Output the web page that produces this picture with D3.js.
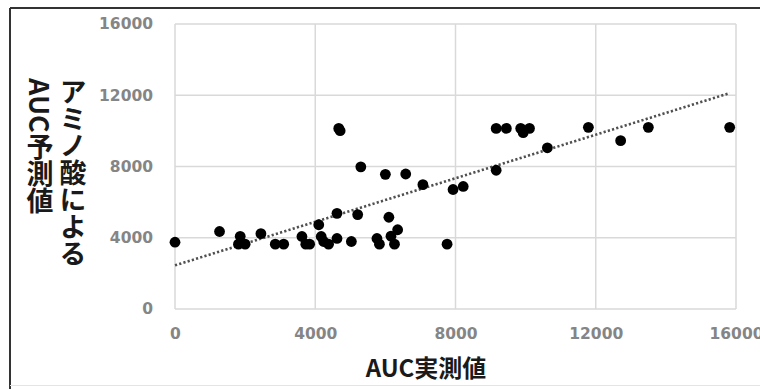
<!DOCTYPE html>
<html>
<head>
<meta charset="utf-8">
<script src="https://cdn.jsdelivr.net/npm/d3@7/dist/d3.min.js"></script>
<style>
  html, body { margin: 0; padding: 0; background: #fff; }
  svg { display: block; }
</style>
</head>
<body>
<script>
// AUC measured (x) vs. AUC predicted by amino acids (y)
const actual = [0, 1270, 1860, 1810, 2000, 2450, 2860, 3100, 3620, 3730,
  3840, 4100, 4170, 4240, 4380, 4620, 4620, 4670, 4710, 5030,
  5210, 5300, 5760, 5830, 6000, 6100, 6160, 6260, 6350, 6580,
  7070, 7760, 7930, 8220, 9160, 9160, 9450, 9860, 9930, 10110,
  10620, 11790, 12710, 13500, 15820];
const predicted = [3750, 4350, 4080, 3640, 3640, 4230, 3640, 3640, 4070, 3640,
  3640, 4730, 4070, 3790, 3640, 3960, 5370, 10140, 10010, 3790,
  5300, 7980, 3960, 3640, 7560, 5150, 4090, 3640, 4450, 7580,
  6980, 3640, 6710, 6880, 7790, 10140, 10140, 10140, 9900, 10140,
  9050, 10200, 9450, 10200, 10200];
const trendX = [0, 15820];
const trendY = [2450, 12120];
const xTicks = [0, 4000, 8000, 12000, 16000];
const yTicks = [0, 4000, 8000, 12000, 16000];
const xTitle = "AUC実測値";
const yTitleLines = ["アミノ酸による", "AUC予測値"];

const W = 760, H = 389;
const svg = d3.select("body").append("svg").attr("width", W).attr("height", H);

// outer frame
svg.append("rect").attr("x", 0).attr("y", 0).attr("width", W).attr("height", H).attr("fill", "#fff");
svg.append("line").attr("x1", 10).attr("x2", W).attr("y1", 8).attr("y2", 8)
  .attr("stroke", "#333").attr("stroke-width", 2);
svg.append("line").attr("x1", 10).attr("x2", 10).attr("y1", 8).attr("y2", H)
  .attr("stroke", "#333").attr("stroke-width", 2);
svg.append("line").attr("x1", 10).attr("x2", W).attr("y1", 385.5).attr("y2", 385.5)
  .attr("stroke", "#e4e4e4").attr("stroke-width", 1);

const x = d3.scaleLinear().domain([0, 16000]).range([175, 736]);
const y = d3.scaleLinear().domain([0, 16000]).range([309, 24]);

// grid
const grid = svg.append("g");
grid.selectAll("line.v").data(xTicks).join("line")
  .attr("x1", d => x(d)).attr("x2", d => x(d))
  .attr("y1", y(0)).attr("y2", y(16000))
  .attr("stroke", "#d9d9d9").attr("stroke-width", 1.5);
grid.selectAll("line.h").data(yTicks).join("line")
  .attr("y1", d => y(d)).attr("y2", d => y(d))
  .attr("x1", x(0)).attr("x2", x(16000))
  .attr("stroke", "#d9d9d9").attr("stroke-width", 1.5);

// axes (labels only)
const tickFont = "'DejaVu Sans', 'Open Sans', sans-serif";
const yAxis = d3.axisLeft(y).tickValues(yTicks).tickSize(0).tickPadding(22).tickFormat(d3.format("d"));
const gy = svg.append("g").attr("transform", `translate(${x(0)},0)`).call(yAxis);
gy.select(".domain").remove();
gy.selectAll("text").attr("font-family", tickFont).attr("font-size", 15.5).attr("font-weight", 700).attr("fill", "#858585");

const xAxis = d3.axisBottom(x).tickValues(xTicks).tickSize(0).tickPadding(19).tickFormat(d3.format("d"));
const gx = svg.append("g").attr("transform", `translate(0,${y(0)})`).call(xAxis);
gx.select(".domain").remove();
gx.selectAll("text").attr("font-family", tickFont).attr("font-size", 15.5).attr("font-weight", 700).attr("fill", "#858585");

// trend line
const line = d3.line().x(d => x(d[0])).y(d => y(d[1]));
svg.append("path").datum(d3.zip(trendX, trendY)).attr("d", line)
  .attr("fill", "none").attr("stroke", "#505050").attr("stroke-width", 2.6)
  .attr("stroke-dasharray", "2.2,2.2");

// points
svg.append("g").selectAll("circle").data(d3.zip(actual, predicted)).join("circle")
  .attr("cx", d => x(d[0])).attr("cy", d => y(d[1])).attr("r", 5.4).attr("fill", "#000");

// titles
const cjk = "'Noto Sans CJK JP', 'Noto Sans', sans-serif";
svg.append("text").attr("x", 426).attr("y", 370).attr("text-anchor", "middle")
  .attr("dominant-baseline", "middle")
  .attr("font-family", cjk).attr("font-size", 24).attr("font-weight", 700).attr("fill", "#1a1a1a")
  .text(xTitle);

const colX = [73, 40];
yTitleLines.forEach((t, i) => {
  svg.append("text").attr("x", colX[i]).attr("y", 78)
    .style("writing-mode", "vertical-rl")
    .attr("font-family", cjk).attr("font-size", 27).attr("font-weight", 700).attr("fill", "#1a1a1a")
    .text(t);
});
</script>
</body>
</html>
